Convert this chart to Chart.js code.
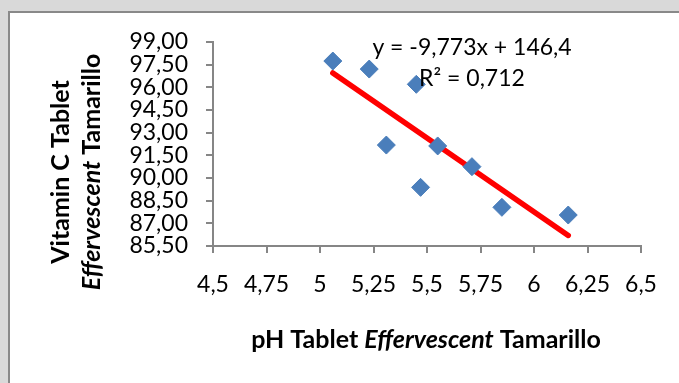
<!DOCTYPE html>
<html>
<head>
<meta charset="utf-8">
<script src="https://cdn.jsdelivr.net/npm/chart.js@4.4.1/dist/chart.umd.min.js"></script>
<style>
  html, body { margin: 0; overflow: hidden; background: #d9d9d9; }
  canvas { display: block; }
</style>
</head>
<body>
<canvas id="canvas" width="679" height="383"></canvas>
<script>
// pH vs vitamin C
const phValues = [5.06, 5.23, 5.45, 5.31, 5.55, 5.71, 5.47, 5.85, 6.16];
const vitaminC = [97.74, 97.21, 96.20, 92.18, 92.12, 90.75, 89.38, 88.06, 87.55];

const xTicks = [4.5, 4.75, 5, 5.25, 5.5, 5.75, 6, 6.25, 6.5];
const yTicks = [85.5, 87, 88.5, 90, 91.5, 93, 94.5, 96, 97.5, 99];

const trendSlope = -9.773;
const trendIntercept = 146.4;
const trendText = ["y = -9,773x + 146,4", "R² = 0,712"];

const xTitle = [["pH Tablet ", false], ["Effervescent", true], [" Tamarillo", false]];
const yTitle = [
    [["Vitamin C Tablet", false]],
    [["Effervescent", true], [" Tamarillo", false]]
];

const axisGrey = "#868686";
const fam = "Lato, 'Open Sans', sans-serif";

const points = phValues.map((v, i) => ({ x: v, y: vitaminC[i] }));
const xMin = Math.min(...phValues);
const xMax = Math.max(...phValues);
const trendPoints = [xMin, xMax].map(x => ({ x: x, y: trendSlope * x + trendIntercept }));

function drawPieces(ctx, pieces, cx, cy, size) {
    let total = 0;
    const widths = pieces.map(p => {
        ctx.font = (p[1] ? "italic " : "") + "bold " + size + "px " + fam;
        const w = ctx.measureText(p[0]).width;
        total += w;
        return w;
    });
    let x = cx - total / 2;
    ctx.textBaseline = "middle";
    ctx.textAlign = "left";
    pieces.forEach((p, i) => {
        ctx.font = (p[1] ? "italic " : "") + "bold " + size + "px " + fam;
        ctx.fillText(p[0], x, cy);
        x += widths[i];
    });
}

// grey page with the white chart box
const framePlugin = {
    id: "frame",
    beforeDraw(chart) {
        const ctx = chart.ctx;
        ctx.save();
        ctx.fillStyle = "#d9d9d9";
        ctx.fillRect(0, 0, chart.width, chart.height);
        ctx.fillStyle = "#fff";
        ctx.fillRect(8, 11, chart.width, chart.height);
        ctx.fillStyle = "#898989";
        ctx.fillRect(8, 11, chart.width, 2);
        ctx.fillRect(8, 11, 2, chart.height);
        ctx.restore();
    }
};

const labelsPlugin = {
    id: "labels",
    afterDraw(chart) {
        const ctx = chart.ctx;
        ctx.save();
        // keep the right margin of the box clean
        ctx.fillStyle = "#fff";
        ctx.fillRect(664, 13, chart.width - 664, chart.height);

        ctx.fillStyle = "#000";
        // trendline equation
        ctx.font = "23px " + fam;
        ctx.textAlign = "center";
        ctx.textBaseline = "middle";
        ctx.fillText(trendText[0], 472, 48);
        ctx.fillText(trendText[1], 472, 79);

        // x title
        drawPieces(ctx, xTitle, 426, 340, 25);

        // y title, rotated
        ctx.translate(0, 172);
        ctx.rotate(-Math.PI / 2);
        drawPieces(ctx, yTitle[0], 0, 61, 25);
        drawPieces(ctx, yTitle[1], 0, 92, 25);
        ctx.restore();
    }
};

const tickFont = { family: fam, size: 23 };

const myChart = new Chart(document.getElementById("canvas").getContext("2d"), {
    type: "scatter",
    data: {
        datasets: [{
            label: "data",
            data: points,
            pointStyle: "rectRot",
            pointRadius: 9,
            pointHoverRadius: 9,
            borderWidth: 1,
            backgroundColor: "#4a7ebb",
            borderColor: "#4a7ebb",
            order: 1
        }, {
            type: "line",
            label: "trend",
            data: trendPoints,
            borderColor: "#ff0000",
            borderWidth: 5.5,
            borderCapStyle: "round",
            pointRadius: 0,
            fill: false,
            order: 2
        }]
    },
    options: {
        responsive: false,
        animation: false,
        layout: { padding: { left: 0, top: 42, right: 38, bottom: 0 } },
        plugins: { legend: { display: false }, tooltip: { enabled: false } },
        scales: {
            x: {
                type: "linear",
                min: 4.5,
                max: 6.5,
                afterBuildTicks: s => { s.ticks = xTicks.map(v => ({ value: v })); },
                afterFit: s => { s.height = 137; },
                ticks: {
                    callback: v => String(v).replace(".", ","),
                    font: tickFont,
                    color: "#000",
                    padding: 18,
                    maxRotation: 0,
                    autoSkip: false
                },
                grid: { drawOnChartArea: false, drawTicks: true, tickLength: 7, color: axisGrey, lineWidth: 2 },
                border: { color: axisGrey, width: 2 }
            },
            y: {
                type: "linear",
                min: 85.5,
                max: 99,
                afterBuildTicks: s => { s.ticks = yTicks.map(v => ({ value: v })); },
                afterFit: s => { s.width = 213; },
                ticks: {
                    callback: v => v.toFixed(2).replace(".", ","),
                    font: tickFont,
                    color: "#000",
                    padding: 18,
                    autoSkip: false
                },
                grid: { drawOnChartArea: false, drawTicks: true, tickLength: 7, color: axisGrey, lineWidth: 2 },
                border: { color: axisGrey, width: 2 }
            }
        }
    },
    plugins: [framePlugin, labelsPlugin]
});
</script>
</body>
</html>
